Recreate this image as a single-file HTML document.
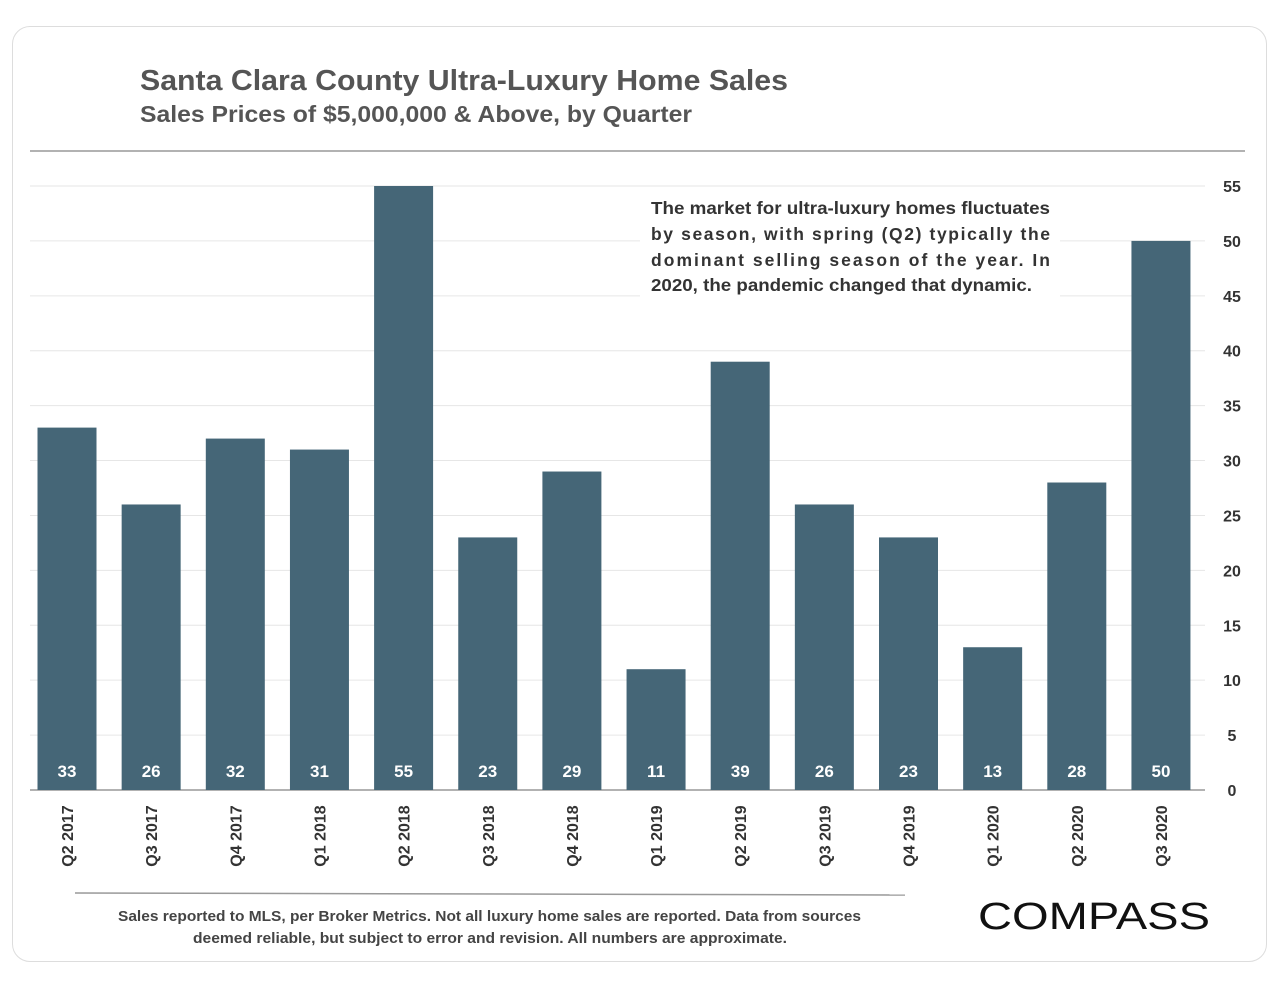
<!DOCTYPE html>
<html><head><meta charset="utf-8"><style>
body{margin:0;background:#fff;font-family:"Liberation Sans",sans-serif;}
#card{position:absolute;left:12px;top:26px;width:1255px;height:936px;border:1px solid #ddd;border-radius:18px;box-sizing:border-box;}
</style></head><body>
<div id="card"></div>
<svg id="chart" width="1280" height="989" style="position:absolute;left:0;top:0">
<text x="140" y="90" font-size="29" font-weight="bold" fill="#555" textLength="648" lengthAdjust="spacingAndGlyphs">Santa Clara County Ultra-Luxury Home Sales</text>
<text x="140" y="122" font-size="23" font-weight="bold" fill="#555" textLength="552" lengthAdjust="spacingAndGlyphs">Sales Prices of $5,000,000 &amp; Above, by Quarter</text>
<line x1="30" y1="151" x2="1245" y2="151" stroke="#999" stroke-width="1.5"/>
<g id="grid"></g><g id="bars"></g>
<rect x="640" y="192" width="420" height="108" fill="#fff"/>
<g font-size="17.5" font-weight="bold" fill="#333">
<text x="651" y="214" textLength="399" lengthAdjust="spacingAndGlyphs">The market for ultra-luxury homes fluctuates</text>
<text x="651" y="240" textLength="399" lengthAdjust="spacing">by season, with spring (Q2) typically the</text>
<text x="651" y="266" textLength="399" lengthAdjust="spacing">dominant selling season of the year.  In</text>
<text x="651" y="291" textLength="381" lengthAdjust="spacingAndGlyphs">2020, the pandemic changed that dynamic.</text>
</g>
<line x1="75" y1="893" x2="905" y2="895" stroke="#999" stroke-width="1.5"/>
<g font-size="14.5" font-weight="bold" fill="#444">
<text x="118" y="921" textLength="743" lengthAdjust="spacingAndGlyphs">Sales reported to MLS, per Broker Metrics. Not all luxury home sales are reported. Data from sources</text>
<text x="193" y="943" textLength="594" lengthAdjust="spacingAndGlyphs">deemed reliable, but subject to error and revision. All numbers are approximate.</text>
</g>
<text x="978" y="929" font-size="38" fill="#111" textLength="232" lengthAdjust="spacingAndGlyphs">COMPASS</text>
</svg>
<script>
const categories=["Q2 2017","Q3 2017","Q4 2017","Q1 2018","Q2 2018","Q3 2018","Q4 2018","Q1 2019","Q2 2019","Q3 2019","Q4 2019","Q1 2020","Q2 2020","Q3 2020"];
const sales=[33,26,32,31,55,23,29,11,39,26,23,13,28,50];
const yTicks=[0,5,10,15,20,25,30,35,40,45,50,55];
const NS="http://www.w3.org/2000/svg";
function y(v){return 790-v*(604/55);}
function x(i){return 67+i*84.15;}
function mk(t,a,p){const e=document.createElementNS(NS,t);for(const k in a)e.setAttribute(k,a[k]);p.appendChild(e);return e;}
const g=document.getElementById('grid'),b=document.getElementById('bars');
yTicks.forEach(v=>{
 const l=mk('line',{x1:30,x2:1205,y1:y(v),y2:y(v),stroke:v===0?'#999':'#e6e6e6','stroke-width':v===0?1.5:1},g);
 
 
 const t=mk('text',{x:1232,y:y(v)+6,'font-size':16,'font-weight':'bold',fill:'#333','text-anchor':'middle'},g);
 t.textContent=v;
 
 
});
sales.forEach((v,i)=>{
 const r=mk('rect',{x:x(i)-29.5,y:y(v),width:59,height:y(0)-y(v),fill:'#456677'},b);
 
 
 const t=mk('text',{x:x(i),y:777,'font-size':17,'font-weight':'bold',fill:'#fff','text-anchor':'middle'},b);
 t.textContent=v;
 
 
 const c=mk('text',{transform:`translate(${x(i)+6},${836}) rotate(-90)`,'font-size':16,'font-weight':'bold',fill:'#333','text-anchor':'middle'},b);
 c.textContent=categories[i];
 
 
});
</script>
</body></html>
